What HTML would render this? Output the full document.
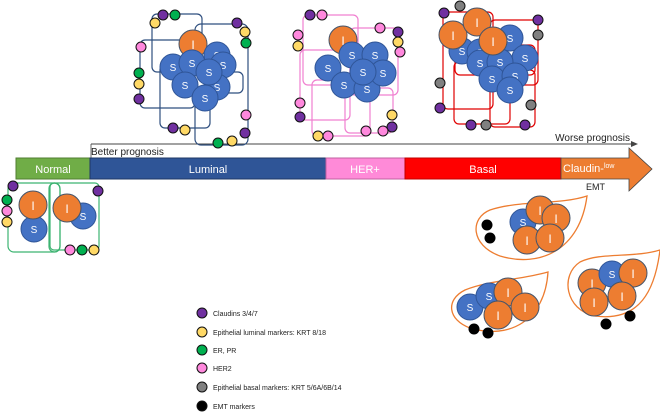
<!DOCTYPE html>
<html><head><meta charset="utf-8"><style>
html,body{margin:0;padding:0;background:#fff;width:660px;height:412px;overflow:hidden}
svg text{font-family:"Liberation Sans",sans-serif}
</style></head><body>
<svg width="660" height="412" viewBox="0 0 660 412" xmlns="http://www.w3.org/2000/svg">
<defs>
<g id="S"><circle r="13" fill="#4472c4" stroke="#2f5597" stroke-width="1"/><text y="4" text-anchor="middle" font-size="10" fill="#fff">S</text></g>
<g id="I"><circle r="14" fill="#ed7d31" stroke="#44546a" stroke-width="1"/><text y="5" text-anchor="middle" font-size="12" fill="#fff">I</text></g>
</defs>

<!-- prognosis line -->
<line x1="91" y1="144" x2="633" y2="144" stroke="#444" stroke-width="1"/>
<polygon points="631,141 638,144 631,147" fill="#444"/>
<line x1="91" y1="144" x2="91" y2="158" stroke="#444" stroke-width="0.8"/>
<text x="91" y="155" font-size="10" fill="#222">Better prognosis</text>
<text x="630" y="141" font-size="10" fill="#222" text-anchor="end">Worse prognosis</text>

<!-- bar -->
<rect x="16" y="158" width="74" height="21" fill="#70ad47" stroke="#507e32" stroke-width="1"/>
<rect x="90" y="158" width="236" height="21" fill="#2f5597" stroke="#1f3864" stroke-width="1"/>
<rect x="326" y="158" width="79" height="21" fill="#ff8ad8" stroke="#c060a0" stroke-width="1"/>
<rect x="405" y="158" width="156" height="21" fill="#ff0000" stroke="#c00000" stroke-width="1"/>
<polygon points="561,158 629,158 629,148 652,169 629,191 629,179 561,179" fill="#ed7d31" stroke="#444" stroke-width="0.8"/>
<text x="53" y="173" font-size="11" fill="#fff" text-anchor="middle">Normal</text>
<text x="208" y="173" font-size="11" fill="#fff" text-anchor="middle">Luminal</text>
<text x="365" y="173" font-size="11" fill="#fff" text-anchor="middle">HER+</text>
<text x="483" y="173" font-size="11" fill="#fff" text-anchor="middle">Basal</text>
<text x="563" y="172" font-size="11" fill="#fff">Claudin-<tspan font-size="7" dy="-4">low</tspan></text>
<text x="586" y="190" font-size="9" fill="#222">EMT</text>

<!-- Normal -->
<g fill="none" stroke="#3cb371" stroke-width="1.2">
<rect x="8" y="183" width="52" height="69" rx="6"/>
<rect x="49" y="183" width="11" height="69" rx="5.5"/>
<rect x="50" y="183" width="49" height="67" rx="4"/>
</g>
<use href="#S" x="34" y="229"/><use href="#I" x="33" y="205"/>
<use href="#S" x="83" y="216"/><use href="#I" x="67" y="208"/>
<g stroke="#111" stroke-width="1">
<circle cx="13" cy="186" r="5" fill="#7030a0"/><circle cx="7" cy="200" r="5" fill="#00b050"/>
<circle cx="7" cy="211" r="5" fill="#ff88dd"/><circle cx="7" cy="222" r="5" fill="#ffd966"/>
<circle cx="98" cy="191" r="5" fill="#7030a0"/><circle cx="70" cy="250" r="5" fill="#ff88dd"/>
<circle cx="82" cy="250" r="5" fill="#00b050"/><circle cx="94" cy="250" r="5" fill="#ffd966"/>
</g>

<!-- Luminal cluster -->
<g fill="none" stroke="#2f4f7f" stroke-width="1.2">
<rect x="152" y="14" width="50" height="58" rx="5"/>
<rect x="195" y="24" width="53" height="121" rx="6"/>
<rect x="140" y="40" width="55" height="68" rx="5"/>
<rect x="160" y="65" width="50" height="63" rx="5"/>
<rect x="178" y="72" width="65" height="21" rx="5"/>
</g>
<use href="#I" x="193" y="44"/>
<use href="#S" x="217" y="55"/><use href="#S" x="223" y="65"/>
<use href="#S" x="173" y="67"/><use href="#S" x="192" y="63"/>
<use href="#S" x="185" y="85"/><use href="#S" x="217" y="87"/>
<use href="#S" x="205" y="98"/><use href="#S" x="209" y="72"/>
<g stroke="#111" stroke-width="1">
<circle cx="155" cy="23" r="5" fill="#ffd966"/><circle cx="163" cy="15" r="5" fill="#7030a0"/><circle cx="175" cy="15" r="5" fill="#00b050"/>
<circle cx="237" cy="23" r="5" fill="#7030a0"/><circle cx="245" cy="32" r="5" fill="#ffd966"/><circle cx="246" cy="43" r="5" fill="#00b050"/>
<circle cx="141" cy="47" r="5" fill="#ff88dd"/><circle cx="139" cy="73" r="5" fill="#00b050"/><circle cx="139" cy="84" r="5" fill="#ffd966"/>
<circle cx="139" cy="99" r="5" fill="#7030a0"/><circle cx="173" cy="128" r="5" fill="#7030a0"/><circle cx="185" cy="130" r="5" fill="#ffd966"/>
<circle cx="246" cy="115" r="5" fill="#ff88dd"/><circle cx="245" cy="133" r="5" fill="#7030a0"/><circle cx="218" cy="143" r="5" fill="#00b050"/><circle cx="232" cy="141" r="5" fill="#ffd966"/>
</g>

<!-- HER cluster -->
<g fill="none" stroke="#f080d0" stroke-width="1.2">
<rect x="303" y="15" width="55" height="70" rx="5"/>
<rect x="350" y="28" width="48" height="67" rx="5"/>
<rect x="300" y="50" width="50" height="70" rx="5"/>
<rect x="312" y="80" width="58" height="56" rx="5"/>
<rect x="345" y="88" width="48" height="45" rx="5"/>
</g>
<use href="#I" x="343" y="40"/>
<use href="#S" x="328" y="68"/><use href="#S" x="352" y="55"/><use href="#S" x="375" y="55"/>
<use href="#S" x="344" y="85"/><use href="#S" x="367" y="89"/><use href="#S" x="383" y="73"/><use href="#S" x="363" y="72"/>
<g stroke="#111" stroke-width="1">
<circle cx="310" cy="15" r="5" fill="#7030a0"/><circle cx="322" cy="15" r="5" fill="#ff88dd"/>
<circle cx="298" cy="35" r="5" fill="#ff88dd"/><circle cx="298" cy="46" r="5" fill="#ffd966"/>
<circle cx="380" cy="28" r="5" fill="#ff88dd"/><circle cx="398" cy="32" r="5" fill="#7030a0"/><circle cx="398" cy="42" r="5" fill="#ffd966"/><circle cx="400" cy="52" r="5" fill="#ff88dd"/>
<circle cx="300" cy="103" r="5" fill="#ff88dd"/><circle cx="300" cy="117" r="5" fill="#7030a0"/>
<circle cx="392" cy="115" r="5" fill="#ffd966"/><circle cx="392" cy="127" r="5" fill="#7030a0"/>
<circle cx="318" cy="136" r="5" fill="#ffd966"/><circle cx="328" cy="136" r="5" fill="#ff88dd"/>
<circle cx="366" cy="131" r="5" fill="#ff88dd"/><circle cx="383" cy="131" r="5" fill="#ff88dd"/>
</g>

<!-- Basal cluster -->
<g fill="none" stroke="#e00000" stroke-width="1.2">
<rect x="443" y="12" width="50" height="97" rx="5"/>
<rect x="490" y="20" width="48" height="65" rx="5"/>
<rect x="455" y="45" width="80" height="30" rx="5"/>
<rect x="454" y="62" width="56" height="62" rx="5"/>
<rect x="490" y="70" width="45" height="57" rx="5"/>
</g>
<use href="#S" x="462" y="51"/><use href="#S" x="480" y="52"/><use href="#S" x="510" y="38"/>
<use href="#S" x="480" y="63"/><use href="#S" x="525" y="58"/><use href="#S" x="500" y="62"/>
<use href="#S" x="492" y="79"/><use href="#S" x="515" y="76"/><use href="#S" x="510" y="90"/>
<use href="#I" x="453" y="35"/><use href="#I" x="477" y="22"/><use href="#I" x="493" y="41"/>
<g stroke="#111" stroke-width="1">
<circle cx="460" cy="6" r="5" fill="#808080"/><circle cx="444" cy="13" r="5" fill="#7030a0"/>
<circle cx="538" cy="20" r="5" fill="#7030a0"/><circle cx="538" cy="35" r="5" fill="#808080"/>
<circle cx="440" cy="83" r="5" fill="#808080"/><circle cx="440" cy="108" r="5" fill="#7030a0"/>
<circle cx="531" cy="105" r="5" fill="#808080"/><circle cx="471" cy="125" r="5" fill="#7030a0"/>
<circle cx="486" cy="125" r="5" fill="#808080"/><circle cx="525" cy="125" r="5" fill="#7030a0"/>
</g>

<!-- EMT teardrops -->
<g fill="none" stroke="#ed7d31" stroke-width="1.3">
<path d="M587,196 C560,205 520,200 490,210 C470,218 470,245 500,256 C540,268 580,250 587,196 Z"/>
<path d="M548,272 C520,280 490,280 465,290 C445,300 448,320 470,328 C510,340 545,320 548,272 Z"/>
<path d="M660,250 C635,258 600,252 580,262 C560,275 565,310 595,316 C640,322 655,290 660,250 Z"/>
</g>
<use href="#S" x="523" y="222"/><use href="#I" x="540" y="210"/><use href="#I" x="556" y="218"/><use href="#I" x="527" y="240"/><use href="#I" x="550" y="238"/>
<use href="#S" x="470" y="307"/><use href="#S" x="489" y="296"/><use href="#I" x="508" y="292"/><use href="#I" x="525" y="307"/><use href="#I" x="498" y="315"/>
<use href="#I" x="592" y="283"/><use href="#S" x="612" y="274"/><use href="#I" x="633" y="273"/><use href="#I" x="594" y="302"/><use href="#I" x="622" y="296"/>
<g fill="#000">
<circle cx="487" cy="225" r="5.5"/><circle cx="490" cy="238" r="5.5"/>
<circle cx="474" cy="329" r="5.5"/><circle cx="488" cy="333" r="5.5"/>
<circle cx="606" cy="324" r="5.5"/><circle cx="630" cy="316" r="5.5"/>
</g>

<!-- legend -->
<g stroke="#111" stroke-width="1">
<circle cx="202" cy="313" r="5" fill="#7030a0"/><circle cx="202" cy="332" r="5" fill="#ffd966"/>
<circle cx="202" cy="350" r="5" fill="#00b050"/><circle cx="202" cy="368" r="5" fill="#ff88dd"/>
<circle cx="202" cy="387" r="5" fill="#808080"/><circle cx="202" cy="406" r="5" fill="#000"/>
</g>
<g font-size="7" fill="#222">
<text x="213" y="316">Claudins 3/4/7</text>
<text x="213" y="335">Epithelial luminal markers: KRT 8/18</text>
<text x="213" y="353">ER, PR</text>
<text x="213" y="371">HER2</text>
<text x="213" y="390">Epithelial basal markers: KRT 5/6A/6B/14</text>
<text x="213" y="409">EMT markers</text>
</g>
</svg>
</body></html>
